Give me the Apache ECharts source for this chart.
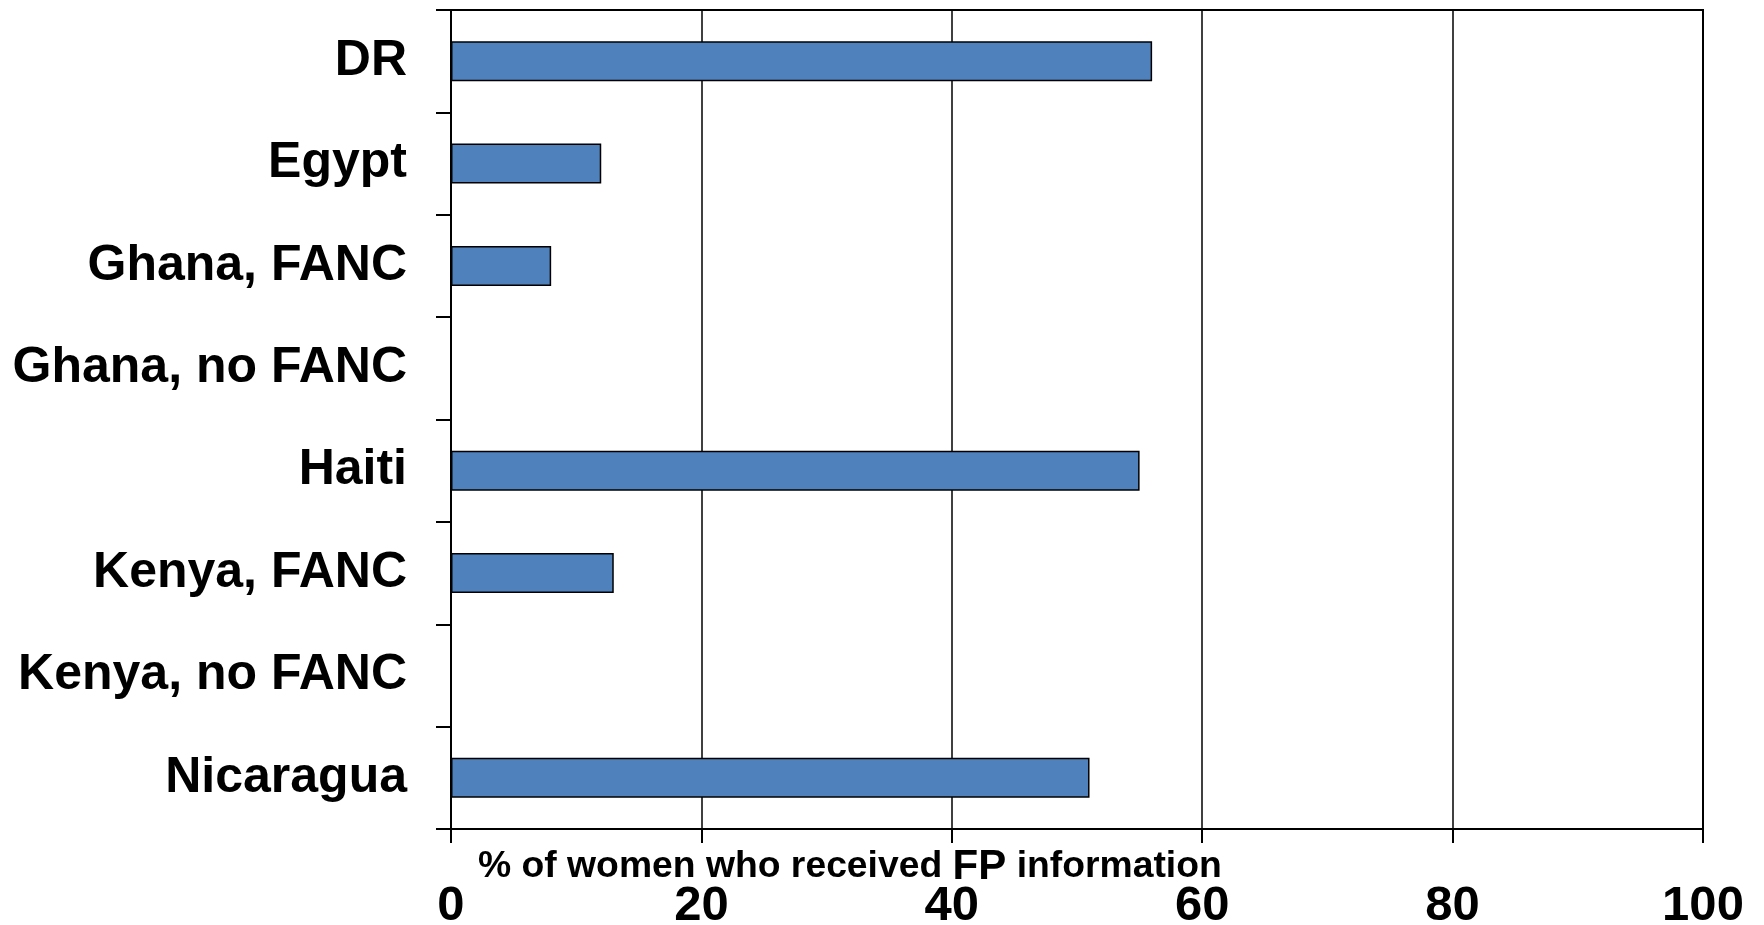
<!DOCTYPE html>
<html>
<head>
<meta charset="utf-8">
<script src="https://cdn.jsdelivr.net/npm/echarts@6/dist/echarts.min.js"></script>
<style>html,body{margin:0;padding:0;background:#fff;}#c{width:1764px;height:925px;}</style>
</head>
<body>
<div id="c"></div>
<script>
const categories = ['DR', 'Egypt', 'Ghana, FANC', 'Ghana, no FANC', 'Haiti', 'Kenya, FANC', 'Kenya, no FANC', 'Nicaragua'];
const values = [56, 12, 8, 0, 55, 13, 0, 51];
const xTicks = { min: 0, max: 100, interval: 20 };
const axisTitleParts = ['% of women who received ', 'FP', ' information'];

const FONT = '"Liberation Sans", Arial, sans-serif';
const chart = echarts.init(document.getElementById('c'), null, { renderer: 'canvas' });
chart.setOption({
  animation: false,
  backgroundColor: '#ffffff',
  title: {
    left: 478,
    top: 846,
    padding: 0,
    text: '{a|' + axisTitleParts[0] + '}{b|' + axisTitleParts[1] + '}{a|' + axisTitleParts[2] + '}',
    textStyle: {
      rich: {
        a: { fontFamily: FONT, fontWeight: 'bold', fontSize: 37.3, color: '#000', lineHeight: 42 },
        b: { fontFamily: FONT, fontWeight: 'bold', fontSize: 42, color: '#000', lineHeight: 42 }
      }
    }
  },
  grid: {
    left: 451, right: 61, top: 10, bottom: 96,
    outerBoundsMode: 'none',
    containLabel: false,
    show: true, borderColor: '#000', borderWidth: 2, backgroundColor: 'transparent'
  },
  xAxis: {
    type: 'value',
    min: xTicks.min, max: xTicks.max, interval: xTicks.interval,
    axisLine: { show: true, lineStyle: { color: '#000', width: 2 } },
    axisTick: { show: true, inside: false, length: 14, lineStyle: { color: '#000', width: 2 } },
    splitLine: { show: true, lineStyle: { color: '#000', width: 1.5 } },
    axisLabel: { margin: 53, fontFamily: FONT, fontWeight: 'bold', fontSize: 49, color: '#000' }
  },
  yAxis: {
    type: 'category',
    data: categories,
    inverse: true,
    axisLine: { show: true, lineStyle: { color: '#000', width: 2 } },
    axisTick: { show: true, inside: false, length: 15, alignWithLabel: false, lineStyle: { color: '#000', width: 2 } },
    splitLine: { show: false },
    axisLabel: { margin: 44, padding: [6, 0, 0, 0], fontFamily: FONT, fontWeight: 'bold', fontSize: 50, color: '#000' }
  },
  series: [{
    type: 'bar',
    data: values,
    barWidth: '39%',
    itemStyle: { color: '#4F81BD', borderColor: '#000', borderWidth: 1.5 }
  }]
});
</script>
</body>
</html>
